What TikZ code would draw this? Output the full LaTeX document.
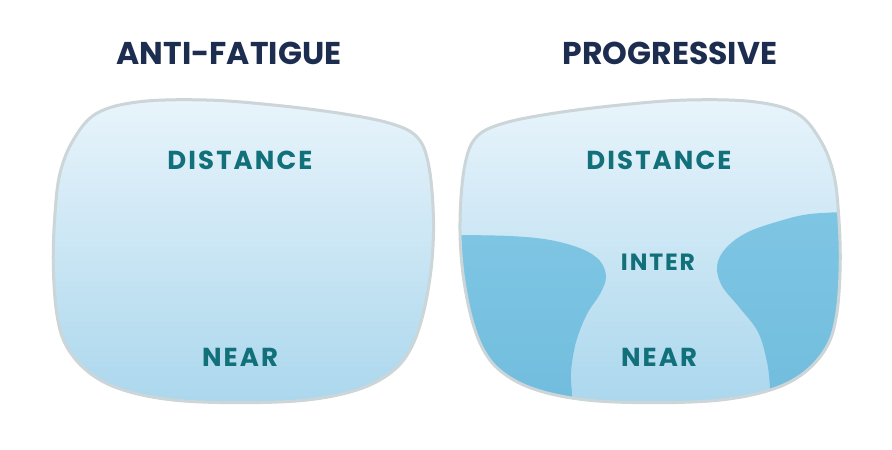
\documentclass[tikz,border=0pt]{standalone}
\usepackage{fontspec}
\setmainfont{Poppins}
\definecolor{lenstop}{HTML}{E8F4FB}
\definecolor{lensbot}{HTML}{ABD7ED}
\definecolor{rim}{HTML}{CCD5D7}
\definecolor{zonetop}{HTML}{7EC5E3}
\definecolor{zonebot}{HTML}{70BCDD}
\definecolor{labelc}{HTML}{12707A}
\definecolor{titlec}{HTML}{1D2D50}
\tikzset{
  titletext/.style={text=titlec, font=\fontsize{31.5}{31.5}\selectfont\bfseries, inner sep=0pt},
  zonetext/.style={text=labelc, font=\fontsize{26}{26}\selectfont\bfseries\addfontfeatures{LetterSpace=8}, inner sep=0pt},
  smalltext/.style={text=labelc, font=\fontsize{23.5}{24}\selectfont\bfseries\addfontfeatures{LetterSpace=8}, inner sep=0pt},
  rimline/.style={draw=rim, line width=3pt},
  lensfill/.style={top color=lenstop, bottom color=lensbot},
  zonefill/.style={top color=zonetop, bottom color=zonebot},
}
\def\lensL{(206.7,100) (273.3,105) (340,113.3) (390,123.3) (416.7,136.7) (428.3,163.3) (433.3,213.3) (431.7,263.3) (423.3,313.3) (410,350) (390,373.3) (356.7,390) (306.7,400) (240,402.7) (173.3,400) (123.3,390) (90,373.3) (66.7,346.7) (56.7,313.3) (53.3,263.3) (55,213.3) (60,173.3) (73.3,140) (96.7,113.3) (140,101.7)}
\def\lensR{(686.8,100) (620.2,105) (553.5,113.3) (503.5,123.3) (476.8,136.7) (465.2,163.3) (460.2,213.3) (461.8,263.3) (470.2,313.3) (483.5,350) (503.5,373.3) (536.8,390) (586.8,400) (653.5,402.7) (720.2,400) (770.2,390) (803.5,373.3) (826.8,346.7) (836.8,313.3) (840.2,263.3) (838.5,213.3) (833.5,173.3) (820.2,140) (796.8,113.3) (753.5,101.7)}
\begin{document}
\begin{tikzpicture}[x=1pt,y=-1pt]
\useasboundingbox[fill=white] (0,0) rectangle (892,450);
% titles
\node[titletext] (t1) at (229,53) {ANTI-FATIGUE};
\node[titletext] (t2) at (670,53) {PROGRESSIVE};
% left lens
\shade[lensfill] plot[smooth cycle, tension=0.6] coordinates {\lensL};
\draw[rimline] plot[smooth cycle, tension=0.6] coordinates {\lensL};
% right lens
\shade[lensfill] plot[smooth cycle, tension=0.6] coordinates {\lensR};
\begin{scope}
  \clip plot[smooth cycle, tension=0.6] coordinates {\lensR};
  \shade[zonefill] (440,235) -- plot[smooth, tension=0.6] coordinates {(455,235) (510,236) (550,240) (582,249) (600,261) (606,277) (600,294) (587,314) (576,342) (571,372) (572,395) (572,420)} -- (440,420) -- cycle;
  \shade[zonefill] (860,212) -- plot[smooth, tension=0.6] coordinates {(845,212) (810,214) (783,220) (748,232) (726,248) (717,266) (722,286) (739,307) (758,332) (767,362) (770,388) (771,420)} -- (860,420) -- cycle;
\end{scope}
\draw[rimline] plot[smooth cycle, tension=0.6] coordinates {\lensR};
% labels
\node[zonetext] (d1) at (240,160) {DISTANCE};
\node[zonetext] (n1) at (240,357) {NEAR};
\node[zonetext] (d2) at (659,160) {DISTANCE};
\node[smalltext] (i2) at (658,262) {INTER};
\node[zonetext] (n2) at (659,357) {NEAR};
\end{tikzpicture}
\end{document}
